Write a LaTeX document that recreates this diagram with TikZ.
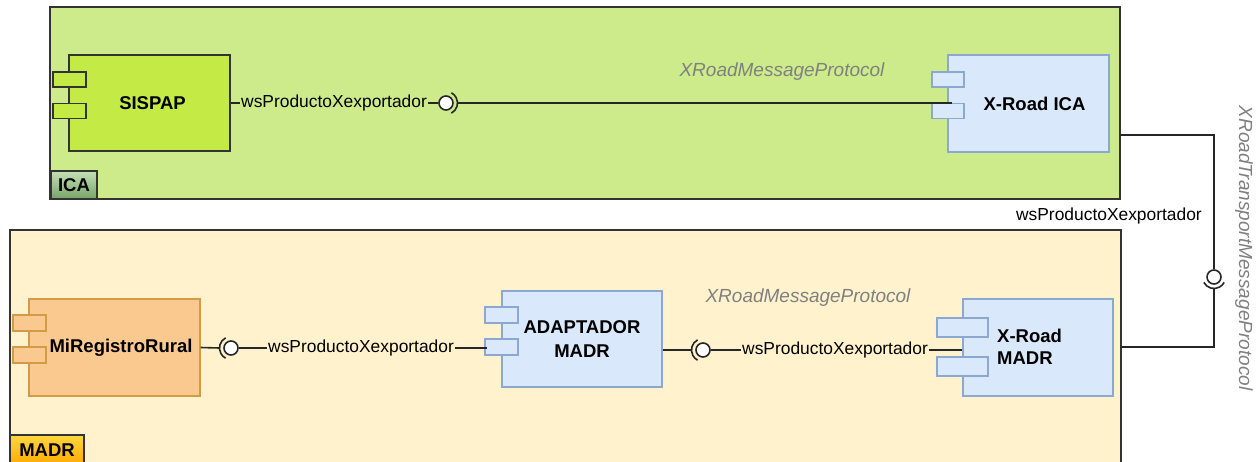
\documentclass[tikz,border=0pt]{standalone}
\usepackage{fontspec}
\setmainfont{Liberation Sans}
\definecolor{icabg}{HTML}{CDEB8B}
\definecolor{madrbg}{HTML}{FFF2CC}
\definecolor{sispapfill}{HTML}{C3EA45}
\definecolor{xfill}{HTML}{DAE8FC}
\definecolor{xdraw}{HTML}{8DA8D0}
\definecolor{mrrfill}{HTML}{F9C98F}
\definecolor{mrrdraw}{HTML}{D49A45}
\definecolor{framedraw}{HTML}{333333}
\definecolor{protogray}{HTML}{808080}
\tikzset{
  frame/.style={draw=framedraw, line width=1.4pt},
  comp/.style={draw, line width=1.4pt, rectangle, inner sep=0pt, font=\fontsize{18.5}{24}\selectfont\bfseries},
  port/.style={draw, line width=1.4pt, rectangle, inner sep=0pt},
  wire/.style={draw=black!85, line width=1.6pt},
  lbl/.style={inner sep=1pt, font=\fontsize{17.4}{20}\selectfont},
  proto/.style={inner sep=0pt, text=protogray, font=\fontsize{19}{22}\selectfont\itshape},
  lolly/.style={circle, draw=black!85, line width=1.6pt, fill=white, minimum size=14pt, inner sep=0pt},
  tag/.style={draw=framedraw, line width=1.4pt, rectangle, inner sep=0pt, font=\fontsize{18.5}{21}\selectfont\bfseries}
}
\begin{document}
\begin{tikzpicture}[x=1pt,y=-1pt]
\clip (0,0) rectangle (1257,461);
\fill[white] (0,0) rectangle (1257,461);
% frames
\draw[frame, fill=icabg] (50,7) rectangle (1120,199);
\draw[frame, fill=madrbg] (10,230) rectangle (1121,475);
\node[tag, top color={rgb,255:red,196;green,224;blue,182}, bottom color={rgb,255:red,118;green,164;blue,104}, minimum width=46pt, minimum height=28pt] (icatag) at (74,185) {ICA};
\node[tag, top color={rgb,255:red,255;green,214;blue,64}, bottom color={rgb,255:red,255;green,170;blue,0}, minimum width=74pt, minimum height=30pt] (madrtag) at (47,450) {MADR};
% SISPAP
\node[comp, draw=framedraw, fill=sispapfill, minimum width=161pt, minimum height=96pt] (sispap) at (149.5,103) {\hspace*{6pt}SISPAP};
\node[port, draw=framedraw, fill=sispapfill, minimum width=33pt, minimum height=15pt] (sp1) at (69.5,79.5) {};
\node[port, draw=framedraw, fill=sispapfill, minimum width=33pt, minimum height=15pt] (sp2) at (69.5,111) {};
% X-Road ICA
\node[comp, draw=xdraw, fill=xfill, minimum width=161pt, minimum height=97pt] (xica) at (1028.5,103.5) {\hspace*{12pt}\textcolor{black}{X-Road ICA}};
\node[port, draw=xdraw, fill=xfill, minimum width=32pt, minimum height=15pt] (xi1) at (948,79.5) {};
\node[port, draw=xdraw, fill=xfill, minimum width=32pt, minimum height=15pt] (xi2) at (948,111) {};
% MiRegistroRural
\node[comp, draw=mrrdraw, fill=mrrfill, minimum width=171pt, minimum height=97pt] (mrr) at (114.5,347.5) {};
\node[port, draw=mrrdraw, fill=mrrfill, minimum width=33pt, minimum height=16pt] (mr1) at (29.5,323) {};
\node[port, draw=mrrdraw, fill=mrrfill, minimum width=33pt, minimum height=16pt] (mr2) at (29.5,355) {};
\node[inner sep=0pt, font=\fontsize{18.5}{21}\selectfont\bfseries] (mrrtext) at (121,348) {MiRegistroRural};
% ADAPTADOR MADR
\node[comp, draw=xdraw, fill=xfill, minimum width=160pt, minimum height=96pt, align=center] (adapt) at (582,339) {ADAPTADOR\\MADR};
\node[port, draw=xdraw, fill=xfill, minimum width=33pt, minimum height=16pt] (ad1) at (501.5,315) {};
\node[port, draw=xdraw, fill=xfill, minimum width=33pt, minimum height=16pt] (ad2) at (501.5,347) {};
% X-Road MADR
\node[comp, draw=xdraw, fill=xfill, minimum width=150pt, minimum height=97pt] (xmadr) at (1038,347.5) {};
\node[port, draw=xdraw, fill=xfill, minimum width=51pt, minimum height=19pt] (xm1) at (962.5,327.5) {};
\node[port, draw=xdraw, fill=xfill, minimum width=51pt, minimum height=19pt] (xm2) at (962.5,366.5) {};
\node[inner sep=0pt, align=left, anchor=west, font=\fontsize{18.5}{22.5}\selectfont\bfseries] (xmtext) at (997,347) {X-Road\\MADR};
% protocol labels
\node[proto] (p1) at (782,72) {XRoadMessageProtocol};
\node[proto] (p2) at (808,298) {XRoadMessageProtocol};
\node[proto, rotate=-90] (p3) at (1244,248) {XRoadTransportMessageProtocol};
% ICA connection
\node[lbl, anchor=west] (l1) at (240,103) {wsProductoXexportador};
\node[lolly] (c1) at (446,103) {};
\coordinate (s1) at (457.5,103);
\coordinate (xica-in) at (952,103);
\draw[wire] (sispap.east) -- (l1.west);
\draw[wire] (l1.east) -- (c1.west);
\draw[wire] ([shift={(-62:11.5pt)}]c1.center) arc[start angle=-62, end angle=62, radius=11.5pt];
\draw[wire] (s1) -- (xica-in);
% MRR connection
\node[lolly] (c2) at (231,348) {};
\coordinate (s2) at (219.5,348);
\node[lbl, anchor=west] (l2) at (267,348) {wsProductoXexportador};
\coordinate (ad-in) at (487,348);
\draw[wire] (mrr.east) -- (s2);
\draw[wire] ([shift={(118:11.5pt)}]c2.center) arc[start angle=118, end angle=242, radius=11.5pt];
\draw[wire] (c2.east) -- (l2.west);
\draw[wire] (l2.east) -- (ad-in);
% ADAPTADOR connection
\node[lolly] (c3) at (703,350) {};
\coordinate (s3) at (691.5,350);
\node[lbl, anchor=west] (l3) at (741,350) {wsProductoXexportador};
\coordinate (xm-in) at (962,350);
\draw[wire] (adapt.east |- s3) -- (s3);
\draw[wire] ([shift={(118:11.5pt)}]c3.center) arc[start angle=118, end angle=242, radius=11.5pt];
\draw[wire] (c3.east) -- (l3.west);
\draw[wire] (l3.east) -- (xm-in);
% transport connection
\node[lolly] (c4) at (1214,277) {};
\coordinate (s4) at (1214,288.5);
\coordinate (ica-out) at (1120,135);
\coordinate (madr-out) at (1121,347);
\draw[wire] (ica-out) -| (c4.north);
\draw[wire] ([shift={(208:11.5pt)}]c4.center) arc[start angle=208, end angle=332, radius=11.5pt];
\draw[wire] (s4) |- (madr-out);
\node[lbl, anchor=east] (l4) at (1203,216) {wsProductoXexportador};
\end{tikzpicture}
\end{document}
